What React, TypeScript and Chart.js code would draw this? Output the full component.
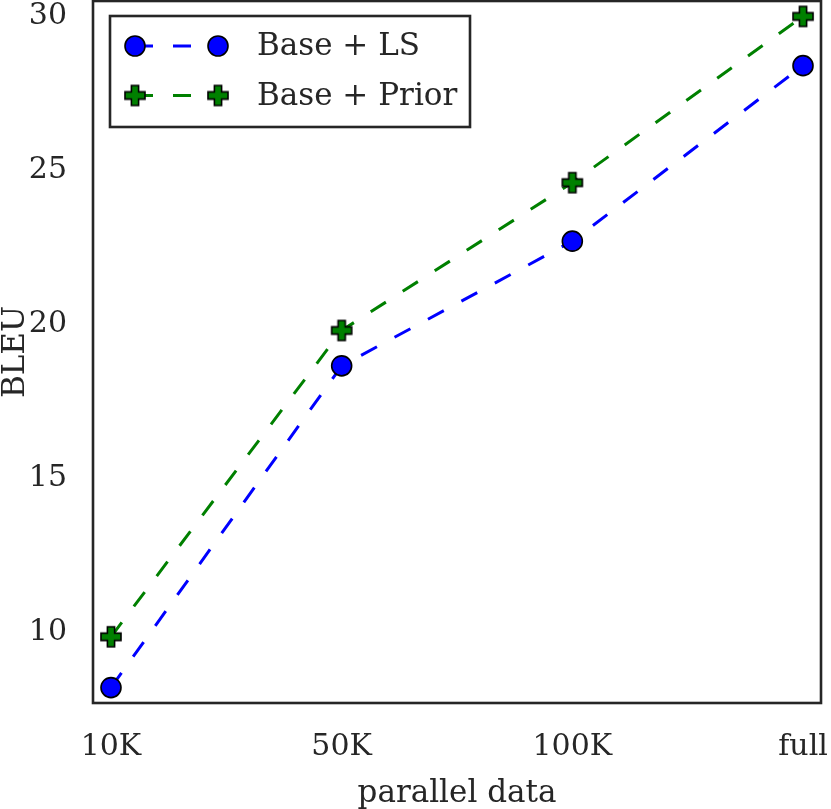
import React, { useEffect, useRef } from 'react';
import { Chart, registerables } from 'chart.js';

Chart.register(...registerables);

const categories = ['10K', '50K', '100K', 'full'];
const baseLS = [8.2, 18.65, 22.7, 28.4];
const basePrior = [9.85, 19.8, 24.6, 30.0];
const yTickValues = [10, 15, 20, 25, 30];
const seriesLabels = ['Base + LS', 'Base + Prior'];
const xTitle = 'parallel data';
const yTitle = 'BLEU';

const TEXT = '#262626';
const FONT = "'DejaVu Serif', serif";

function makePlus(fill: string): HTMLCanvasElement {
  const c = document.createElement('canvas');
  c.width = 26;
  c.height = 26;
  const ctx = c.getContext('2d')!;
  const cx = 13, cy = 13, h = 10, w = 3.6;
  const pts = [
    [-w, -h], [w, -h], [w, -w], [h, -w], [h, w], [w, w],
    [w, h], [-w, h], [-w, w], [-h, w], [-h, -w], [-w, -w],
  ];
  ctx.beginPath();
  pts.forEach(([px, py], i) => {
    if (i === 0) ctx.moveTo(cx + px, cy + py);
    else ctx.lineTo(cx + px, cy + py);
  });
  ctx.closePath();
  ctx.fillStyle = fill;
  ctx.fill();
  ctx.lineWidth = 1.6;
  ctx.strokeStyle = '#000';
  ctx.lineJoin = 'miter';
  ctx.stroke();
  return c;
}

const framePlugin = {
  id: 'frame',
  afterDraw(chart: any) {
    const { ctx, chartArea } = chart;
    ctx.save();
    ctx.strokeStyle = TEXT;
    ctx.lineWidth = 2.6;
    ctx.strokeRect(chartArea.left, chartArea.top, chartArea.right - chartArea.left, chartArea.bottom - chartArea.top);
    ctx.restore();
  },
};

const legendPlugin = {
  id: 'customLegend',
  afterDraw(chart: any) {
    const { ctx, chartArea } = chart;
    const x0 = chartArea.left + 17;
    const y0 = chartArea.top + 15;
    const w = 360;
    const h = 111;
    ctx.save();
    ctx.fillStyle = '#fff';
    ctx.fillRect(x0, y0, w, h);
    ctx.strokeStyle = TEXT;
    ctx.lineWidth = 2.6;
    ctx.strokeRect(x0, y0, w, h);
    chart.data.datasets.forEach((ds: any, i: number) => {
      const y = y0 + 30 + i * 49.5;
      const xa = x0 + 25;
      const xb = x0 + 108;
      ctx.save();
      ctx.strokeStyle = ds.borderColor;
      ctx.lineWidth = ds.borderWidth;
      ctx.setLineDash(ds.borderDash);
      ctx.beginPath();
      ctx.moveTo(xa, y);
      ctx.lineTo(xb, y);
      ctx.stroke();
      ctx.restore();
      [xa, xb].forEach((mx) => {
        if (ds.pointStyle === 'circle') {
          ctx.beginPath();
          ctx.arc(mx, y, ds.pointRadius, 0, Math.PI * 2);
          ctx.fillStyle = ds.pointBackgroundColor;
          ctx.fill();
          ctx.lineWidth = ds.pointBorderWidth;
          ctx.strokeStyle = ds.pointBorderColor;
          ctx.stroke();
        } else {
          const img = ds.pointStyle as HTMLCanvasElement;
          ctx.drawImage(img, mx - img.width / 2, y - img.height / 2);
        }
      });
      ctx.fillStyle = TEXT;
      ctx.font = `31px ${FONT}`;
      ctx.textAlign = 'left';
      ctx.textBaseline = 'middle';
      ctx.fillText(ds.label, x0 + 147, y + 1);
    });
    ctx.restore();
  },
};

export default function App() {
  const ref = useRef<HTMLCanvasElement>(null);

  useEffect(() => {
    document.body.style.margin = '0';
    const plus = makePlus('#008000');
    const chart = new Chart(ref.current!, {
      type: 'line',
      data: {
        datasets: [
          {
            label: seriesLabels[0],
            data: baseLS.map((v, i) => ({ x: i, y: v })),
            borderColor: '#0000ff',
            borderWidth: 3,
            borderDash: [18, 20],
            pointStyle: 'circle',
            pointRadius: 10,
            pointHoverRadius: 10,
            pointBackgroundColor: '#0000ff',
            pointBorderColor: '#000',
            pointBorderWidth: 1.6,
            tension: 0,
            fill: false,
            clip: false as any,
          },
          {
            label: seriesLabels[1],
            data: basePrior.map((v, i) => ({ x: i, y: v })),
            borderColor: '#008000',
            borderWidth: 3,
            borderDash: [18, 20],
            pointStyle: plus as any,
            pointRadius: 10,
            pointHoverRadius: 10,
            pointBackgroundColor: '#008000',
            pointBorderColor: '#000',
            pointBorderWidth: 1.6,
            tension: 0,
            fill: false,
            clip: false as any,
          },
        ],
      },
      options: {
        responsive: false,
        animation: false,
        layout: { autoPadding: false, padding: { top: 1, right: 10, left: 0, bottom: 0 } },
        plugins: {
          legend: { display: false },
          tooltip: { enabled: false },
        },
        scales: {
          x: {
            type: 'linear',
            min: -0.078,
            max: 3.078,
            grid: { display: false, drawTicks: false },
            border: { display: false },
            afterBuildTicks: (scale: any) => {
              scale.ticks = categories.map((_, i) => ({ value: i }));
            },
            afterFit: (scale: any) => {
              scale.height = 106;
              scale.paddingLeft = 0;
              scale.paddingRight = 0;
            },
            ticks: {
              color: TEXT,
              font: { family: FONT, size: 30 },
              padding: 26,
              maxRotation: 0,
              autoSkip: false,
              callback: (v: any) => categories[Math.round(Number(v))] ?? '',
            },
            title: {
              display: true,
              text: xTitle,
              color: TEXT,
              font: { family: FONT, size: 31, lineHeight: 1 },
              padding: 0,
            },
          },
          y: {
            type: 'linear',
            min: 7.7,
            max: 30.5,
            grid: { display: false, drawTicks: false },
            border: { display: false },
            afterBuildTicks: (scale: any) => {
              scale.ticks = yTickValues.map((v) => ({ value: v }));
            },
            afterFit: (scale: any) => {
              scale.width = 93;
              scale.paddingTop = 0;
              scale.paddingBottom = 0;
            },
            ticks: {
              color: TEXT,
              font: { family: FONT, size: 30 },
              padding: 26,
              callback: (v: any) => String(v),
            },
            title: {
              display: true,
              text: yTitle,
              color: TEXT,
              font: { family: FONT, size: 31, lineHeight: 1 },
              padding: 0,
            },
          },
        },
      },
      plugins: [framePlugin, legendPlugin],
    });
    return () => chart.destroy();
  }, []);

  return (
    <div style={{ position: 'absolute', left: 0, top: 0, width: 831, height: 809, background: '#fff' }}>
      <canvas ref={ref} width={831} height={809} style={{ width: 831, height: 809, display: 'block' }} />
    </div>
  );
}
